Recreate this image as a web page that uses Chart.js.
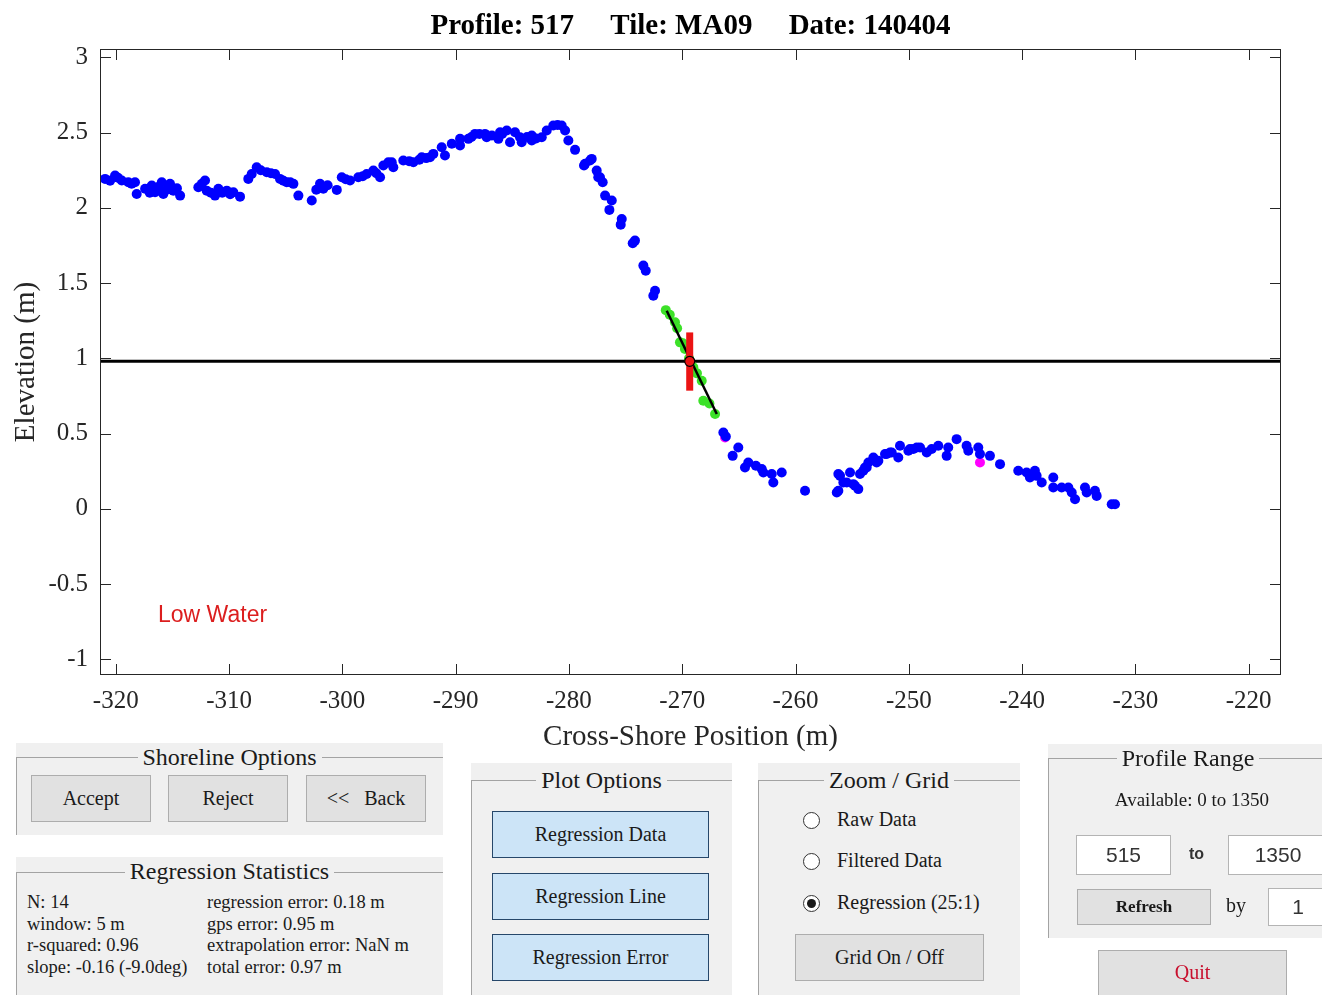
<!DOCTYPE html>
<html lang="en">
  <head>
    <meta charset="UTF-8" />
    <title>Shoreline Profile</title>
    <script src="https://cdn.jsdelivr.net/npm/chart.js"></script>
    <style>
      body { margin: 0; width: 1322px; height: 995px; background: #fff; position: relative; overflow: hidden;
             font-family: "Liberation Serif", "DejaVu Serif", serif; color: #1a1a1a; }
      #profileChart { position: absolute; left: 0; top: 0; }
      .panel { position: absolute; background: #f0f0f0; }
      .edge { position: absolute; left: 0; right: 0; bottom: 0; border-top: 1px solid #a3a3a3; border-left: 1px solid #a3a3a3; }
      .ptitle { position: absolute; left: 0; right: 0; text-align: center; font-size: 24px; line-height: 28px; }
      .ptitle span { background: #f0f0f0; padding: 0 5px; }
      .btn { position: absolute; box-sizing: border-box; background: #e1e1e1; border: 1px solid #adadad;
             display: flex; align-items: center; justify-content: center; font-size: 20px; }
      .btn.blue { background: #cce4f7; border: 1px solid #26476a; }
      .txt { position: absolute; white-space: pre; }
      .stats { font-size: 18.5px; line-height: 21.7px; }
      .radio { position: absolute; width: 17px; height: 17px; box-sizing: border-box; border: 1px solid #333;
               border-radius: 50%; background: #fff; }
      .radio.on::after { content: ""; position: absolute; left: 3px; top: 3px; width: 9px; height: 9px;
                         border-radius: 50%; background: #1a1a1a; }
      .input { position: absolute; box-sizing: border-box; background: #fff; border: 1px solid #b4b4b4;
               display: flex; align-items: center; justify-content: center;
               font-family: "Liberation Sans", sans-serif; font-size: 21px; color: #333; }
    </style>
  </head>
  <body>
    <canvas id="profileChart" width="1322" height="760"></canvas>

    <!-- Shoreline Options -->
    <div class="panel" style="left:16px;top:743px;width:427px;height:92px">
      <div class="edge" style="top:14px"></div>
      <div class="ptitle" style="top:0px"><span>Shoreline Options</span></div>
    </div>
    <div class="btn" style="left:31px;top:775px;width:120px;height:47px">Accept</div>
    <div class="btn" style="left:168px;top:775px;width:120px;height:47px">Reject</div>
    <div class="btn" style="left:306px;top:775px;width:120px;height:47px">&lt;&lt;&nbsp;&nbsp; Back</div>

    <!-- Regression Statistics -->
    <div class="panel" style="left:16px;top:857px;width:427px;height:140px">
      <div class="edge" style="top:15px"></div>
      <div class="ptitle" style="top:0px"><span>Regression Statistics</span></div>
    </div>
    <div class="txt stats" style="left:27px;top:892px">N: 14
window: 5 m
r-squared: 0.96
slope: -0.16 (-9.0deg)</div>
    <div class="txt stats" style="left:207px;top:892px">regression error: 0.18 m
gps error: 0.95 m
extrapolation error: NaN m
total error: 0.97 m</div>

    <!-- Plot Options -->
    <div class="panel" style="left:471px;top:763px;width:261px;height:235px">
      <div class="edge" style="top:17px"></div>
      <div class="ptitle" style="top:3px"><span>Plot Options</span></div>
    </div>
    <div class="btn blue" style="left:492px;top:811px;width:217px;height:47px">Regression Data</div>
    <div class="btn blue" style="left:492px;top:873px;width:217px;height:47px">Regression Line</div>
    <div class="btn blue" style="left:492px;top:934px;width:217px;height:47px">Regression Error</div>

    <!-- Zoom / Grid -->
    <div class="panel" style="left:758px;top:763px;width:262px;height:235px">
      <div class="edge" style="top:17px"></div>
      <div class="ptitle" style="top:3px"><span>Zoom / Grid</span></div>
    </div>
    <div class="radio" style="left:803px;top:812px"></div>
    <div class="txt" style="left:837px;top:808px;font-size:20px">Raw Data</div>
    <div class="radio" style="left:803px;top:853px"></div>
    <div class="txt" style="left:837px;top:849px;font-size:20px">Filtered Data</div>
    <div class="radio on" style="left:803px;top:895px"></div>
    <div class="txt" style="left:837px;top:891px;font-size:20px">Regression (25:1)</div>
    <div class="btn" style="left:795px;top:934px;width:189px;height:47px">Grid On / Off</div>

    <!-- Profile Range -->
    <div class="panel" style="left:1048px;top:744px;width:280px;height:194px">
      <div class="edge" style="top:14px"></div>
      <div class="ptitle" style="top:0px"><span>Profile Range</span></div>
    </div>
    <div class="txt" style="left:1048px;width:288px;top:789px;text-align:center;font-size:19px">Available: 0 to 1350</div>
    <div class="input" style="left:1076px;top:835px;width:95px;height:40px">515</div>
    <div class="txt" style="left:1189px;top:845px;font-family:'Liberation Sans',sans-serif;font-size:16px;font-weight:bold;color:#333">to</div>
    <div class="input" style="left:1228px;top:835px;width:100px;height:40px">1350</div>
    <div class="btn" style="left:1077px;top:889px;width:134px;height:36px;font-size:17px;font-weight:bold">Refresh</div>
    <div class="txt" style="left:1226px;top:894px;font-size:20px">by</div>
    <div class="input" style="left:1268px;top:888px;width:60px;height:38px">1</div>

    <div class="btn" style="left:1098px;top:950px;width:189px;height:55px;color:#c8102e;align-items:flex-start;padding-top:10px">Quit</div>

    <script>
      // Axis limits and tick values
      const xLimits = [-321.39, -217.15];
      const yLimits = [-1.104, 3.055];
      const xTicks = [-320, -310, -300, -290, -280, -270, -260, -250, -240, -230, -220];
      const yTicks = [-1, -0.5, 0, 0.5, 1, 1.5, 2, 2.5, 3];

      // Profile points (cross-shore position, elevation)
      const blueX = [
        -320.94, -320.5, -320.06, -319.8, -319.47, -318.89, -318.6, -318.30, -318.15, -317.41, -317.0, -316.82,
        -316.53, -316.2, -315.94, -315.80, -315.5, -315.21, -314.92, -314.6, -314.32, -312.71, -312.4, -312.12,
        -311.97, -311.6, -311.24, -310.94, -310.6, -310.20, -309.9, -309.62, -309.03, -308.30, -308.00, -307.56,
        -307.2, -306.67, -306.3, -305.94, -305.50, -305.2, -304.91, -304.6, -304.32, -303.88, -302.70, -302.3,
        -301.97, -301.68, -301.3, -300.49, -300.05, -299.7, -299.32, -298.59, -298.2, -297.85, -297.26, -297.0,
        -296.67, -296.38, -295.94, -295.64, -295.50, -294.62, -294.1, -293.73, -293.2, -292.99, -292.6, -292.26,
        -291.97, -291.23, -290.94, -290.34, -289.61, -289.61, -288.88, -288.6, -288.29, -287.9, -287.41, -287.26,
        -286.8, -286.23, -286.08, -285.9, -285.49, -285.20, -284.76, -284.32, -284.17, -283.7, -283.28, -283.28,
        -282.9, -282.40, -281.96, -281.38, -281.0, -280.64, -280.34, -280.05, -279.46, -278.67, -278.58, -278.14,
        -277.99, -277.55, -277.41, -277.26, -277.02, -276.81, -276.43, -276.22, -275.43, -275.34, -274.37, -274.17,
        -273.43, -273.22, -272.55, -272.40,
        -266.37, -266.15, -265.55, -265.05, -264.46, -264.17, -263.50, -262.98, -262.84, -262.10, -261.96, -261.22,
        -259.16,
        -256.36, -256.22, -256.22, -256.07, -255.78, -255.48, -255.19, -254.90, -254.75, -254.46, -254.31, -254.02,
        -253.87, -253.72, -253.57, -253.13, -252.84, -252.69, -252.10, -251.95, -251.66, -251.51, -250.93, -250.78,
        -250.04, -249.90, -249.60, -249.30, -249.01, -248.42, -247.98, -247.40, -246.66, -246.52, -245.78, -244.90,
        -244.75, -243.87, -243.72, -242.84, -241.95, -240.34, -239.60, -239.31, -238.87, -238.72, -238.27, -237.25,
        -237.25, -236.51, -235.92, -235.62, -235.33, -234.45, -234.30, -233.57, -233.42, -232.09, -231.80
      ];
      const blueY = [
        2.192, 2.18, 2.214, 2.20, 2.181, 2.170, 2.16, 2.170, 2.092, 2.126, 2.10, 2.148,
        2.103, 2.14, 2.170, 2.092, 2.12, 2.159, 2.114, 2.13, 2.081, 2.136, 2.16, 2.181,
        2.114, 2.10, 2.081, 2.126, 2.10, 2.114, 2.09, 2.103, 2.074, 2.192, 2.225, 2.269,
        2.25, 2.236, 2.23, 2.225, 2.192, 2.18, 2.170, 2.17, 2.159, 2.081, 2.048, 2.12,
        2.159, 2.126, 2.15, 2.119, 2.203, 2.19, 2.181, 2.203, 2.21, 2.225, 2.247, 2.23,
        2.203, 2.281, 2.303, 2.303, 2.269, 2.314, 2.31, 2.303, 2.32, 2.336, 2.33, 2.336,
        2.358, 2.402, 2.347, 2.425, 2.458, 2.414, 2.458, 2.47, 2.491, 2.49, 2.491, 2.469,
        2.48, 2.458, 2.502, 2.49, 2.513, 2.436, 2.502, 2.469, 2.436, 2.47, 2.480, 2.447,
        2.46, 2.469, 2.513, 2.547, 2.55, 2.547, 2.513, 2.447, 2.385, 2.281, 2.292, 2.314,
        2.325, 2.247, 2.203, 2.203, 2.170, 2.081, 1.986, 2.048, 1.888, 1.926, 1.764, 1.782,
        1.616, 1.582, 1.416, 1.449,
        0.507, 0.48, 0.352, 0.408, 0.275, 0.308, 0.286, 0.264, 0.241, 0.231, 0.175, 0.241,
        0.120,
        0.108, 0.120, 0.231, 0.219, 0.175, 0.175, 0.241, 0.164, 0.153, 0.131, 0.231, 0.253,
        0.275, 0.275, 0.308, 0.341, 0.308, 0.319, 0.364, 0.364, 0.374, 0.374, 0.341, 0.419,
        0.386, 0.397, 0.397, 0.408, 0.408, 0.374, 0.397, 0.419, 0.352, 0.408, 0.463, 0.419,
        0.386, 0.408, 0.364, 0.352, 0.297, 0.253, 0.241, 0.208, 0.253, 0.219, 0.175, 0.208,
        0.142, 0.142, 0.142, 0.108, 0.064, 0.142, 0.108, 0.120, 0.086, 0.031, 0.031
      ];

      // Points flagged by the filter
      const magentaX = [-266.22, -243.72];
      const magentaY = [0.474, 0.308];

      // Points inside the regression window (N = 14)
      const greenX = [-271.45, -271.10, -270.64, -270.45, -270.20, -269.95, -269.76, -269.40, -269.02, -268.70, -268.28, -268.14, -267.60, -267.10];
      const greenY = [1.32, 1.29, 1.239, 1.20, 1.106, 1.10, 1.062, 1.00, 0.940, 0.90, 0.851, 0.718, 0.70, 0.630];

      // Regression fit and shoreline estimate
      const regX = [-271.37, -266.95];
      const regY = [1.316, 0.630];
      const datumElev = 0.98;
      const shoreX = -269.34;
      const shoreErr = [0.785, 1.172];

      const titleText = 'Profile: 517     Tile: MA09     Date: 140404';
      const lowWater = { text: 'Low Water', x: -316.27, y: -0.711 };

      const toPoints = (xs, ys) => xs.map((x, i) => ({ x: x, y: ys[i] }));

      // MATLAB-style box with inward ticks, title and annotation
      const axesBox = {
        id: 'axesBox',
        afterDatasetsDraw(chart) {
          const { ctx, chartArea: a, scales: { x, y } } = chart;
          const tl = 11;
          ctx.save();
          ctx.strokeStyle = '#262626';
          ctx.lineWidth = 1;
          ctx.strokeRect(a.left + 0.5, a.top + 0.5, a.right - a.left - 1, a.bottom - a.top - 1);
          ctx.beginPath();
          x.ticks.forEach(t => {
            const px = Math.round(x.getPixelForValue(t.value)) + 0.5;
            ctx.moveTo(px, a.bottom); ctx.lineTo(px, a.bottom - tl);
            ctx.moveTo(px, a.top); ctx.lineTo(px, a.top + tl);
          });
          y.ticks.forEach(t => {
            const py = Math.round(y.getPixelForValue(t.value)) + 0.5;
            ctx.moveTo(a.left, py); ctx.lineTo(a.left + tl, py);
            ctx.moveTo(a.right, py); ctx.lineTo(a.right - tl, py);
          });
          ctx.stroke();

          ctx.fillStyle = 'rgb(220,30,30)';
          ctx.font = '23px "Liberation Sans"';
          ctx.textBaseline = 'middle';
          ctx.textAlign = 'left';
          ctx.fillText(lowWater.text, x.getPixelForValue(lowWater.x), y.getPixelForValue(lowWater.y));

          ctx.fillStyle = '#000';
          ctx.font = 'bold 29px "Liberation Serif"';
          ctx.textAlign = 'center';
          ctx.fillText(titleText, (a.left + a.right) / 2, 27);
          ctx.restore();
        }
      };

      const serif = '"Liberation Serif", "DejaVu Serif", serif';

      new Chart(document.getElementById('profileChart'), {
        type: 'scatter',
        data: {
          datasets: [
            {
              data: toPoints(xLimits, [datumElev, datumElev]),
              showLine: true, borderColor: '#000', borderWidth: 3, pointRadius: 0, order: 6
            },
            {
              data: toPoints(magentaX, magentaY),
              backgroundColor: '#ff00ff', borderWidth: 0, pointRadius: 5, order: 5
            },
            {
              data: toPoints(blueX, blueY),
              backgroundColor: '#0000ff', borderWidth: 0, pointRadius: 5, order: 4
            },
            {
              data: toPoints(greenX, greenY),
              backgroundColor: 'rgb(60,225,40)', borderWidth: 0, pointRadius: 5, order: 3
            },
            {
              data: toPoints(regX, regY),
              showLine: true, borderColor: '#000', borderWidth: 2.5, pointRadius: 0, order: 2
            },
            {
              data: toPoints([shoreX, shoreX], shoreErr),
              showLine: true, borderColor: 'rgb(235,20,20)', borderWidth: 7, borderCapStyle: 'butt',
              pointRadius: 0, order: 1
            },
            {
              data: toPoints([shoreX], [datumElev]),
              backgroundColor: 'rgb(235,20,20)', borderColor: '#000', borderWidth: 1.2, pointRadius: 5, order: 0
            }
          ]
        },
        options: {
          responsive: false,
          maintainAspectRatio: false,
          devicePixelRatio: 1,
          animation: false,
          events: [],
          layout: { padding: { top: 49, right: 41, left: 0, bottom: 0 } },
          plugins: { legend: { display: false }, tooltip: { enabled: false } },
          scales: {
            x: {
              type: 'linear',
              min: xLimits[0],
              max: xLimits[1],
              grid: { display: false, drawTicks: false },
              border: { display: false },
              afterBuildTicks: s => { s.ticks = xTicks.map(v => ({ value: v })); },
              afterFit: s => { s.height = 85; },
              ticks: {
                font: { family: serif, size: 25 },
                color: '#262626',
                padding: 11,
                maxRotation: 0,
                callback: v => String(v)
              },
              title: {
                display: true,
                text: 'Cross-Shore Position (m)',
                font: { family: serif, size: 29 },
                color: '#262626',
                padding: { top: 0, bottom: 5 }
              }
            },
            y: {
              type: 'linear',
              min: yLimits[0],
              max: yLimits[1],
              grid: { display: false, drawTicks: false },
              border: { display: false },
              afterBuildTicks: s => { s.ticks = yTicks.map(v => ({ value: v })); },
              afterFit: s => { s.width = 100; },
              ticks: {
                font: { family: serif, size: 25 },
                color: '#262626',
                padding: 12,
                callback: v => String(v)
              },
              title: {
                display: true,
                text: 'Elevation (m)',
                font: { family: serif, size: 29 },
                color: '#262626',
                padding: { top: 9, bottom: 0 }
              }
            }
          }
        },
        plugins: [axesBox]
      });
    </script>
  </body>
</html>
